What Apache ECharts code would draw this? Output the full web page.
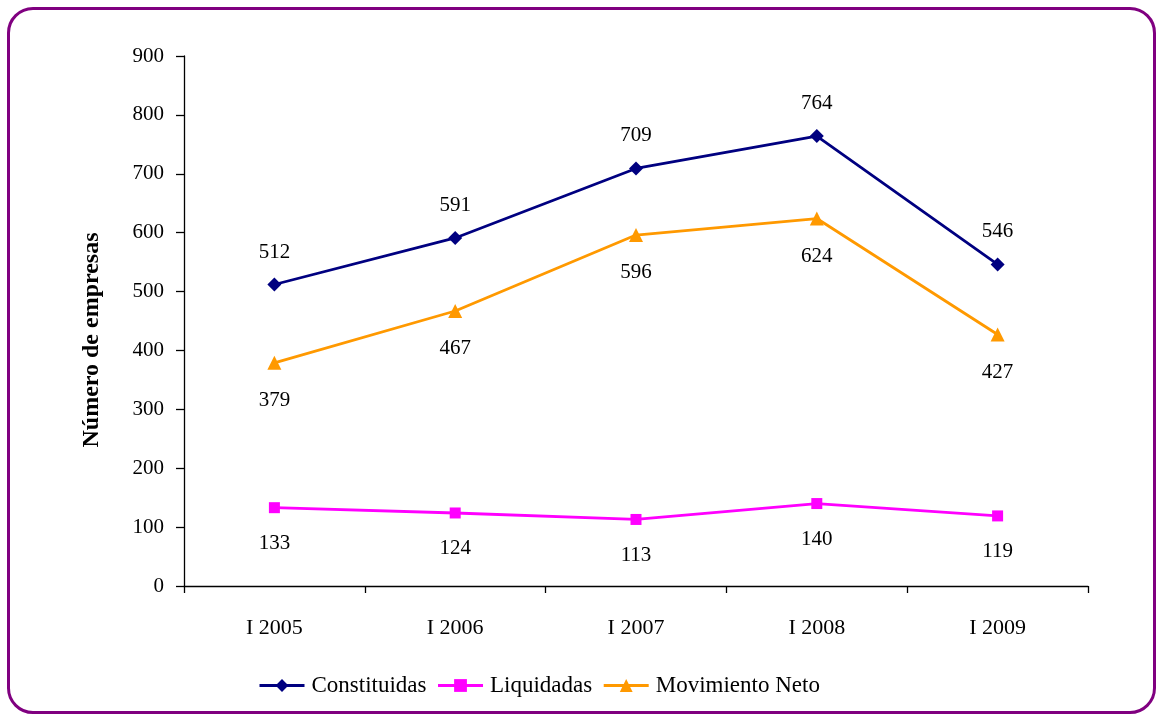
<!DOCTYPE html>
<html>
<head>
<meta charset="utf-8">
<script src="https://cdn.jsdelivr.net/npm/echarts@6/dist/echarts.min.js"></script>
<style>
html,body{margin:0;padding:0;background:#fff;}
#frame{position:absolute;left:7px;top:7px;width:1143px;height:701px;border:3px solid #800080;border-radius:26px;box-sizing:content-box;}
#chart{position:absolute;left:0;top:0;width:1159px;height:716px;}
</style>
</head>
<body>
<div id="frame"></div>
<div id="chart"></div>
<script>
var categories = ['I 2005', 'I 2006', 'I 2007', 'I 2008', 'I 2009'];
var constituidas = [512, 591, 709, 764, 546];
var liquidadas = [133, 124, 113, 140, 119];
var movimientoNeto = [379, 467, 596, 624, 427];
var yTicks = [0, 100, 200, 300, 400, 500, 600, 700, 800, 900];

var FONT = '"Liberation Serif", "DejaVu Serif", serif';
var chart = echarts.init(document.getElementById('chart'), null, {renderer: 'canvas'});
var labelStyle = {color: '#000', fontFamily: FONT, fontSize: 21};

chart.setOption({
  animation: false,
  backgroundColor: 'transparent',
  textStyle: {fontFamily: FONT},
  grid: {left: 184, right: 71, top: 56, bottom: 130, containLabel: false},
  xAxis: {
    type: 'category',
    data: categories,
    boundaryGap: true,
    axisLine: {lineStyle: {color: '#000', width: 1.3}},
    axisTick: {show: true, length: 7, inside: false, lineStyle: {color: '#000', width: 1.3}},
    axisLabel: {color: '#000', fontFamily: FONT, fontSize: 22, margin: 31}
  },
  yAxis: {
    type: 'value',
    min: yTicks[0],
    max: yTicks[yTicks.length - 1],
    interval: 100,
    splitLine: {show: false},
    axisLine: {show: true, lineStyle: {color: '#000', width: 1.3}},
    axisTick: {show: true, length: 8, lineStyle: {color: '#000', width: 1.3}},
    axisLabel: {color: '#000', fontFamily: FONT, fontSize: 21, margin: 20}
  },
  graphic: [{
    type: 'text',
    x: 92, y: 340,
    rotation: Math.PI / 2,
    style: {
      text: 'Número de empresas',
      fill: '#000',
      font: 'bold 24px ' + FONT,
      align: 'center',
      verticalAlign: 'middle'
    }
  }],
  legend: {
    bottom: 14,
    left: 253,
    itemWidth: 45,
    itemHeight: 16,
    itemGap: 10,
    lineStyle: {width: 3},
    textStyle: {color: '#000', fontFamily: FONT, fontSize: 23, padding: [0, 0, 0, 2]},
    data: ['Constituidas', 'Liquidadas', 'Movimiento Neto']
  },
  series: [
    {
      name: 'Constituidas',
      type: 'line',
      data: constituidas,
      symbol: 'diamond',
      symbolSize: 14,
      lineStyle: {color: '#000080', width: 2.8},
      itemStyle: {color: '#000080'},
      label: Object.assign({show: true, position: 'top', distance: 15}, labelStyle)
    },
    {
      name: 'Liquidadas',
      type: 'line',
      data: liquidadas,
      symbol: 'rect',
      symbolSize: 11,
      lineStyle: {color: '#FF00FF', width: 2.8},
      itemStyle: {color: '#FF00FF'},
      label: Object.assign({show: true, position: 'bottom', distance: 20}, labelStyle)
    },
    {
      name: 'Movimiento Neto',
      type: 'line',
      data: movimientoNeto,
      symbol: 'triangle',
      symbolSize: 14,
      lineStyle: {color: '#FF9900', width: 2.8},
      itemStyle: {color: '#FF9900'},
      label: Object.assign({show: true, position: 'bottom', distance: 20}, labelStyle)
    }
  ]
});
</script>
</body>
</html>
